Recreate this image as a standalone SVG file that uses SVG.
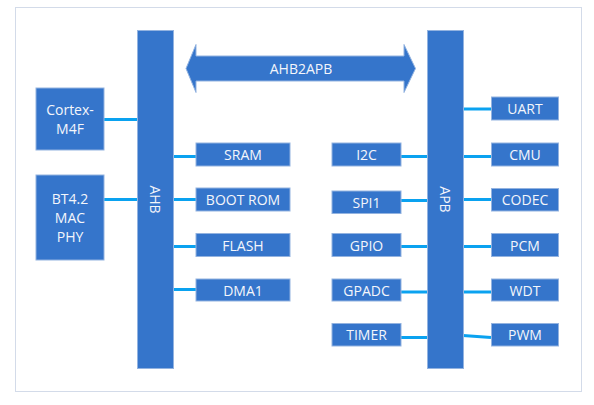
<svg xmlns="http://www.w3.org/2000/svg" width="594" height="405" viewBox="0 0 594 405">
<style>
.box{fill:#3575cb;stroke:#93b3e0;stroke-width:1}
.bar{fill:#3575cb;stroke:#93b3e0;stroke-width:1}
.t{fill:#f4f6fb;font-family:"Open Sans","Noto Sans",sans-serif;font-size:14px;text-anchor:middle;dominant-baseline:central}
.c{stroke:#0aa2f0;stroke-width:3;fill:none}
</style>
<rect x="0" y="0" width="594" height="405" fill="#ffffff"/>
<rect x="15.5" y="7.5" width="566" height="384" fill="none" stroke="#d3dbe9" stroke-width="1"/>
<g id="connectors">
<line class="c" x1="104" y1="119.5" x2="137" y2="119.5"/>
<line class="c" x1="104" y1="199.5" x2="137" y2="199.5"/>
<line class="c" x1="173" y1="156.5" x2="196" y2="156.5"/>
<line class="c" x1="173" y1="199.5" x2="196" y2="199.5"/>
<line class="c" x1="173" y1="246.5" x2="196" y2="246.5"/>
<line class="c" x1="173" y1="289.5" x2="196" y2="289.5"/>
<line class="c" x1="401" y1="156.5" x2="427" y2="156.5"/>
<line class="c" x1="401" y1="200.5" x2="427" y2="200.5"/>
<line class="c" x1="401" y1="246.5" x2="427" y2="246.5"/>
<line class="c" x1="401" y1="292" x2="427" y2="292"/>
<line class="c" x1="401" y1="337.5" x2="427" y2="337.5"/>
<line class="c" x1="463" y1="109" x2="491" y2="109"/>
<line class="c" x1="463" y1="156.5" x2="491" y2="156.5"/>
<line class="c" x1="463" y1="199.5" x2="491" y2="199.5"/>
<line class="c" x1="463" y1="246.5" x2="491" y2="246.5"/>
<line class="c" x1="463" y1="292" x2="491" y2="292"/>
<line class="c" x1="463" y1="335.5" x2="491" y2="337.5"/>
</g>
<g id="ahb2apb">
<polygon class="box" points="186,68.5 196,44.5 196,56 404,56 404,44.5 415.5,68.5 404,92.5 404,81 196,81 196,92.5"/>
<text class="t" x="301" y="68.5">AHB2APB</text>
</g>
<g id="ahb"><rect class="bar" x="137.5" y="30.5" width="36" height="338"/><text class="t" transform="translate(155.5 199.5) rotate(90)">AHB</text></g>
<g id="apb"><rect class="bar" x="427.5" y="30.5" width="36" height="338"/><text class="t" transform="translate(445.5 199.5) rotate(90)">APB</text></g>
<g id="cortex"><rect class="box" x="36" y="88" width="68" height="62"/><text class="t" x="70" y="109.5">Cortex-</text><text class="t" x="70" y="128">M4F</text></g>
<g id="bt"><rect class="box" x="36" y="175" width="68" height="85"/><text class="t" x="70" y="198">BT4.2</text><text class="t" x="70" y="217">MAC</text><text class="t" x="70" y="236">PHY</text></g>
<g id="sram"><rect class="box" x="196" y="143" width="94" height="23"/><text class="t" x="243" y="154.5">SRAM</text></g>
<g id="bootrom"><rect class="box" x="196" y="188" width="94" height="23"/><text class="t" x="243" y="199.5">BOOT ROM</text></g>
<g id="flash"><rect class="box" x="196" y="233.5" width="94" height="23"/><text class="t" x="243" y="245">FLASH</text></g>
<g id="dma1"><rect class="box" x="196" y="279" width="94" height="22"/><text class="t" x="243" y="290">DMA1</text></g>
<g id="i2c"><rect class="box" x="332" y="143" width="69" height="23"/><text class="t" x="366.5" y="154.5">I2C</text></g>
<g id="spi1"><rect class="box" x="332" y="191" width="69" height="22.5"/><text class="t" x="366.5" y="202">SPI1</text></g>
<g id="gpio"><rect class="box" x="332" y="233.5" width="69" height="23"/><text class="t" x="366.5" y="245">GPIO</text></g>
<g id="gpadc"><rect class="box" x="332" y="279" width="69" height="22"/><text class="t" x="366.5" y="290">GPADC</text></g>
<g id="timer"><rect class="box" x="332" y="323.5" width="69" height="22.5"/><text class="t" x="366.5" y="334.5">TIMER</text></g>
<g id="uart"><rect class="box" x="491.5" y="97" width="67" height="23"/><text class="t" x="525" y="108.5">UART</text></g>
<g id="cmu"><rect class="box" x="491.5" y="143" width="67" height="23"/><text class="t" x="525" y="154.5">CMU</text></g>
<g id="codec"><rect class="box" x="491.5" y="188.5" width="67" height="22.5"/><text class="t" x="525" y="199.5">CODEC</text></g>
<g id="pcm"><rect class="box" x="491.5" y="233.5" width="67" height="23"/><text class="t" x="525" y="245">PCM</text></g>
<g id="wdt"><rect class="box" x="491.5" y="279" width="67" height="22"/><text class="t" x="525" y="290">WDT</text></g>
<g id="pwm"><rect class="box" x="491.5" y="323.5" width="67" height="22.5"/><text class="t" x="525" y="334.5">PWM</text></g>
</svg>
